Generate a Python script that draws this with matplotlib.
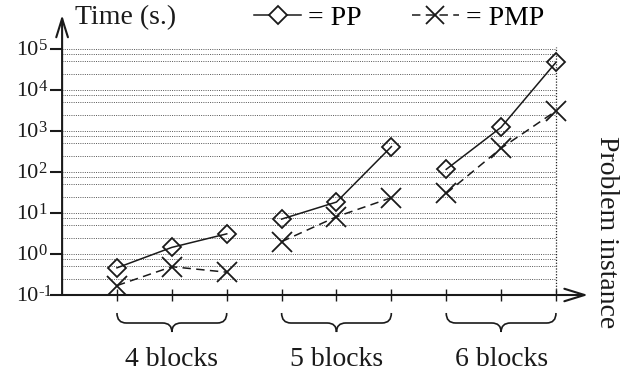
import matplotlib
matplotlib.use("Agg")
import matplotlib.pyplot as plt
import matplotlib.transforms as mtransforms
from matplotlib.path import Path
from matplotlib.patches import PathPatch
from matplotlib.lines import Line2D

plt.rcParams['font.family'] = ['Liberation Serif', 'DejaVu Serif']

# ---- data ----
instances = [1, 2, 3, 4, 5, 6, 7, 8, 9]
pp_times = [0.46, 1.45, 3.1, 7.1, 18.5, 415, 116, 1230, 47400]
pmp_times = [0.17, 0.49, 0.36, 2.0, 8.1, 23.6, 30, 380, 3080]
groups = [[0, 1, 2], [3, 4, 5], [6, 7, 8]]
group_labels = ["4 blocks", "5 blocks", "6 blocks"]
decade_exps = [-1, 0, 1, 2, 3, 4, 5]
grid_mult = [1, 2.5, 5, 7.5]

W, H = 639, 374
fig = plt.figure(figsize=(W / 100, H / 100), dpi=100)
x0px, ybot, ytop, xright = 62.1, 295, 15, 590
ax = fig.add_axes([x0px / W, (H - ybot) / H, (xright - x0px) / W, (ybot - ytop) / H])
step = 54.875
dec = 41.0
ax.set_yscale('log')
ax.set_ylim(0.1, 10 ** (-1 + (ybot - ytop) / dec))
ax.set_xlim(0, (xright - x0px) / step)
for s in ax.spines.values():
    s.set_visible(False)
ax.minorticks_off()

# gridlines
grid_vals = [10 ** e * m for e in decade_exps[:-1] for m in grid_mult if not (e == -1 and m == 1)]
grid_vals.append(10 ** decade_exps[-1])
ax.hlines(grid_vals, 0, 9, colors='#555555', linewidth=0.7, linestyles=(0, (1, 1.3)), zorder=1)
ax.vlines(9, 0.1, 10 ** 5.05, colors='#222222', linewidth=0.9, linestyles=(0, (1, 1.3)), zorder=1)

# axes with arrows
xtip = (588 - x0px) / step
ax.annotate('', xy=(xtip, 0.1), xytext=(0, 0.1), xycoords='data',
            arrowprops=dict(arrowstyle='->,head_length=1.45,head_width=0.45', lw=1.5,
                            color='#1a1a1a', shrinkA=0, shrinkB=0, mutation_scale=10),
            annotation_clip=False, zorder=5)
ax.annotate('', xy=(0, ax.get_ylim()[1]), xytext=(0, 0.1), xycoords='data',
            arrowprops=dict(arrowstyle='->,head_length=1.35,head_width=0.42', lw=1.5,
                            color='#1a1a1a', shrinkA=0, shrinkB=0, mutation_scale=10),
            annotation_clip=False, zorder=5)

# ticks
ax.set_xticks(instances)
ax.set_xticklabels([])
ax.tick_params(axis='x', direction='inout', length=8.6, width=1.0, color='#1a1a1a')
ax.set_yticks([10.0 ** e for e in decade_exps])
ax.set_yticklabels([])
ax.tick_params(axis='y', direction='out', length=8.6, width=1.5, color='#1a1a1a')

# y tick labels
tb = mtransforms.offset_copy(ax.get_yaxis_transform(), fig=fig, x=-23.5, y=-1.5, units='dots')
te = mtransforms.offset_copy(ax.get_yaxis_transform(), fig=fig, x=-23.5, y=-1.0, units='dots')
for e in decade_exps:
    ax.text(0, 10.0 ** e, "10", transform=tb, ha='right', va='center', fontsize=16, color='#1a1a1a')
    ax.text(0, 10.0 ** e, str(e), transform=te, ha='left', va='baseline', fontsize=12, color='#1a1a1a')

# data lines
for g in groups:
    xs = [instances[i] for i in g]
    ax.plot(xs, [pp_times[i] for i in g], color='#1a1a1a', lw=1.1, marker='D', ms=9.5,
            mfc='none', mec='#1a1a1a', mew=1.3, zorder=3)
    ax.plot(xs, [pmp_times[i] for i in g], color='#1a1a1a', lw=1.1, ls=(0, (5.5, 3.5)), marker='x',
            ms=14, mec='#1a1a1a', mew=1.3, zorder=4)

# braces and group labels
xt = ax.get_xaxis_transform()
def yfrac(py):
    return (ybot - py) / (ybot - ytop)
top, mid, bot = yfrac(313), yfrac(323), yfrac(332)
r = 0.17
for g, lab in zip(groups, group_labels):
    a, b = instances[g[0]], instances[g[-1]]
    m = (a + b) / 2
    verts = [(a, top), (a, mid), (a + r, mid),
             (m - r, mid),
             (m, mid), (m, bot),
             (m, mid), (m + r, mid),
             (b - r, mid),
             (b, mid), (b, top)]
    codes = [Path.MOVETO, Path.CURVE3, Path.CURVE3,
             Path.LINETO,
             Path.CURVE3, Path.CURVE3,
             Path.CURVE3, Path.CURVE3,
             Path.LINETO,
             Path.CURVE3, Path.CURVE3]
    ax.add_patch(PathPatch(Path(verts, codes), transform=xt, fill=False, lw=1.2,
                           edgecolor='#1a1a1a', clip_on=False))
    ax.text(m, yfrac(366), lab, transform=xt, ha='center', va='baseline', fontsize=20,
            color='#1a1a1a')

# titles
fig.text(75 / W, 1 - 18 / H, "Time (s.)", ha='left', va='center', fontsize=20, color='#1a1a1a')
fig.text(607 / W, 1 - 232 / H, "Problem instance", ha='center', va='center', rotation=-90,
         fontsize=20, color='#1a1a1a')

# legend
h1 = Line2D([], [], color='#1a1a1a', lw=1.1, marker='D', ms=9, mfc='white', mew=1.3)
h2 = Line2D([], [], color='#1a1a1a', lw=1.1, ls=(0, (5.5, 3.5)), marker='x', ms=13, mew=1.3)
fig.legend([h1, h2], ["= PP", "= PMP"], loc='center left', bbox_to_anchor=(254 / W, 1 - 18 / H),
           ncol=2, frameon=False, fontsize=20, handlelength=1.7, handletextpad=0.25,
           columnspacing=1.8, borderpad=0, borderaxespad=0)

fig.savefig("out.png", dpi=100)
